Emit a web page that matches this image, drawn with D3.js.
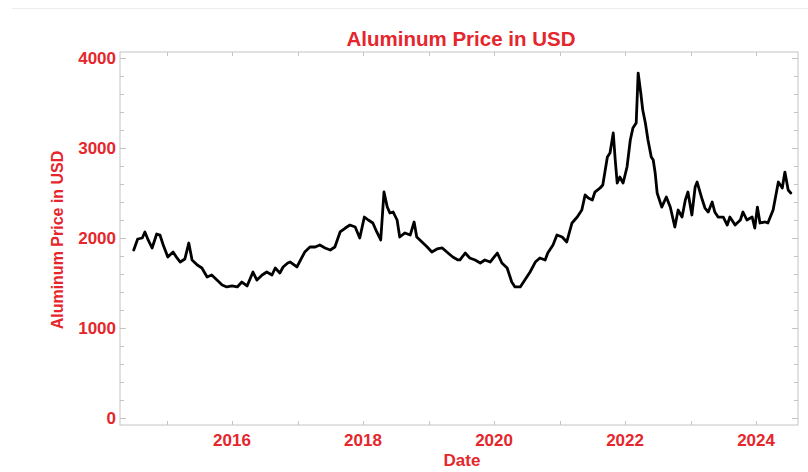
<!DOCTYPE html>
<html>
<head>
<meta charset="utf-8">
<script src="https://cdn.jsdelivr.net/npm/d3@7"></script>
<style>
  html, body { margin: 0; padding: 0; background: #fff; }
  svg { display: block; }
  .lbl { font-family: "Liberation Sans", Arial, sans-serif; font-weight: bold; fill: #e5262c; }
</style>
</head>
<body>
<svg id="chart" width="808" height="472"></svg>
<script>
// dates as fractional years
const dates = [
  2014.50, 2014.56, 2014.63, 2014.67, 2014.72, 2014.78, 2014.85, 2014.90, 2014.95, 2015.02,
  2015.10, 2015.16, 2015.21, 2015.28, 2015.34, 2015.39, 2015.47, 2015.54, 2015.62, 2015.69,
  2015.77, 2015.85, 2015.92, 2016.00, 2016.08, 2016.15, 2016.23, 2016.32, 2016.38, 2016.46,
  2016.53, 2016.61, 2016.66, 2016.73, 2016.78, 2016.85, 2016.89, 2016.99, 2017.11, 2017.19,
  2017.27, 2017.34, 2017.42, 2017.50, 2017.57, 2017.65, 2017.73, 2017.80, 2017.88, 2017.95,
  2018.02, 2018.08, 2018.15, 2018.21, 2018.27, 2018.32, 2018.37, 2018.41, 2018.46, 2018.52,
  2018.56, 2018.64, 2018.72, 2018.78, 2018.82, 2018.90, 2018.98, 2019.05, 2019.13, 2019.21,
  2019.28, 2019.37, 2019.45, 2019.48, 2019.56, 2019.63, 2019.71, 2019.79, 2019.86, 2019.94,
  2020.05, 2020.12, 2020.20, 2020.27, 2020.32, 2020.40, 2020.47, 2020.55, 2020.63, 2020.70,
  2020.78, 2020.82, 2020.90, 2020.96, 2021.04, 2021.11, 2021.19, 2021.27, 2021.34, 2021.39,
  2021.44, 2021.50, 2021.54, 2021.62, 2021.66, 2021.73, 2021.77, 2021.82, 2021.85, 2021.88,
  2021.92, 2021.97, 2022.03, 2022.08, 2022.12, 2022.17, 2022.20, 2022.24, 2022.27, 2022.31,
  2022.35, 2022.40, 2022.43, 2022.46, 2022.49, 2022.56, 2022.63, 2022.69, 2022.76, 2022.81,
  2022.87, 2022.92, 2022.96, 2023.02, 2023.07, 2023.10, 2023.18, 2023.22, 2023.27, 2023.33,
  2023.37, 2023.42, 2023.50, 2023.56, 2023.60, 2023.68, 2023.76, 2023.80, 2023.86, 2023.94,
  2023.98, 2024.02, 2024.06, 2024.14, 2024.18, 2024.26, 2024.34, 2024.40, 2024.44, 2024.49,
  2024.53
];

const prices = [
  1867, 1989, 2000, 2067, 1978, 1889, 2044, 2033, 1922, 1789,
  1844, 1778, 1733, 1767, 1944, 1756, 1700, 1667, 1567, 1589,
  1533, 1478, 1456, 1467, 1456, 1511, 1467, 1622, 1533, 1589,
  1622, 1589, 1667, 1611, 1678, 1722, 1733, 1678, 1844, 1900,
  1900, 1922, 1889, 1867, 1900, 2067, 2111, 2144, 2122, 2000,
  2233, 2200, 2167, 2067, 1978, 2511, 2344, 2278, 2289, 2200,
  2011, 2056, 2033, 2178, 2011, 1956, 1900, 1844, 1878, 1889,
  1844, 1789, 1756, 1756, 1833, 1778, 1756, 1722, 1756, 1733,
  1833, 1722, 1667, 1511, 1456, 1456, 1533, 1622, 1733, 1778,
  1756, 1833, 1922, 2033, 2011, 1956, 2167, 2233, 2311, 2478,
  2444, 2422, 2511, 2556, 2589, 2900, 2944, 3167, 2867, 2611,
  2678, 2611, 2789, 3089, 3222, 3278, 3833, 3611, 3422, 3278,
  3089, 2900, 2867, 2722, 2500, 2344, 2456, 2344, 2122, 2311,
  2233, 2422, 2511, 2256, 2567, 2622, 2422, 2333, 2289, 2400,
  2289, 2233, 2233, 2144, 2233, 2144, 2200, 2289, 2200, 2233,
  2111, 2344, 2167, 2178, 2167, 2311, 2622, 2556, 2733, 2533,
  2500
];

const yearTicks = [2015, 2016, 2017, 2018, 2019, 2020, 2021, 2022, 2023, 2024];
const yearLabels = [2016, 2018, 2020, 2022, 2024];
const priceTicks = d3.range(0, 4001, 200);
const priceLabels = [0, 1000, 2000, 3000, 4000];

const title = "Aluminum Price in USD";
const xTitle = "Date";
const yTitle = "Aluminum Price in USD";

const svg = d3.select("#chart");
const frame = { left: 120, right: 798, top: 52, bottom: 425 };
const frameColor = "#c4c4c4";

const x = d3.scaleLinear().domain([2014.29, 2024.64]).range([frame.left, frame.right]);
const y = d3.scaleLinear().domain([-78, 4067]).range([frame.bottom, frame.top]);

// faint rule at top of the screenshot
svg.append("line")
  .attr("x1", 12).attr("x2", 808).attr("y1", 8.5).attr("y2", 8.5)
  .attr("stroke", "#ececec").attr("stroke-width", 1);

// frame
svg.append("rect")
  .attr("x", frame.left).attr("y", frame.top)
  .attr("width", frame.right - frame.left).attr("height", frame.bottom - frame.top)
  .attr("fill", "none").attr("stroke", frameColor).attr("stroke-width", 1);

// ticks on all four sides, pointing inward
const tickG = svg.append("g").attr("stroke", frameColor).attr("stroke-width", 1);
yearTicks.forEach(t => {
  const xx = Math.round(x(t)) + 0.5;
  tickG.append("line").attr("x1", xx).attr("x2", xx).attr("y1", frame.bottom).attr("y2", frame.bottom - 4);
  tickG.append("line").attr("x1", xx).attr("x2", xx).attr("y1", frame.top).attr("y2", frame.top + 4);
});
priceTicks.forEach(t => {
  const yy = Math.round(y(t)) + 0.5;
  const len = t % 1000 === 0 ? 6 : 4;
  tickG.append("line").attr("x1", frame.left).attr("x2", frame.left + len).attr("y1", yy).attr("y2", yy);
  tickG.append("line").attr("x1", frame.right).attr("x2", frame.right - len).attr("y1", yy).attr("y2", yy);
});

// tick labels
svg.append("g").selectAll("text")
  .data(yearLabels)
  .join("text")
  .attr("class", "lbl")
  .attr("x", d => x(d))
  .attr("y", 446)
  .attr("text-anchor", "middle")
  .attr("font-size", 17)
  .text(d => d);

svg.append("g").selectAll("text")
  .data(priceLabels)
  .join("text")
  .attr("class", "lbl")
  .attr("x", 116)
  .attr("y", d => y(d) + 6)
  .attr("text-anchor", "end")
  .attr("font-size", 17)
  .text(d => d);

// titles
svg.append("text")
  .attr("class", "lbl")
  .attr("x", 461).attr("y", 46)
  .attr("text-anchor", "middle")
  .attr("font-size", 20.5)
  .text(title);

svg.append("text")
  .attr("class", "lbl")
  .attr("x", 462).attr("y", 466)
  .attr("text-anchor", "middle")
  .attr("font-size", 17)
  .text(xTitle);

svg.append("text")
  .attr("class", "lbl")
  .attr("transform", "translate(63,240) rotate(-90)")
  .attr("text-anchor", "middle")
  .attr("font-size", 16)
  .text(yTitle);

// price line
const series = dates.map((d, i) => ({ t: d, v: prices[i] }));
const line = d3.line().x(d => x(d.t)).y(d => y(d.v));

svg.append("path")
  .datum(series)
  .attr("d", line)
  .attr("fill", "none")
  .attr("stroke", "#000")
  .attr("stroke-width", 2.8)
  .attr("stroke-linejoin", "round")
  .attr("stroke-linecap", "round");
</script>
</body>
</html>
